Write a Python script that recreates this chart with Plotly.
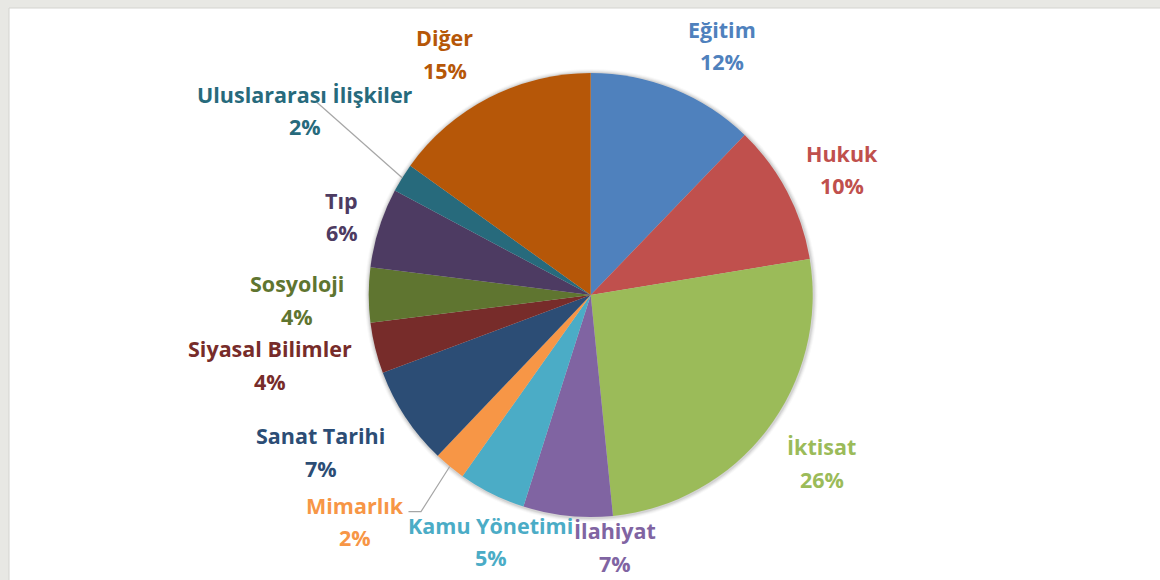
import math
import plotly.graph_objects as go

# ---------------- data ----------------
categories = ["Eğitim", "Hukuk", "İktisat", "İlahiyat", "Kamu Yönetimi", "Mimarlık",
              "Sanat Tarihi", "Siyasal Bilimler", "Sosyoloji", "Tıp",
              "Uluslararası İlişkiler", "Diğer"]
shares = [12.2, 10.2, 26.0, 6.5, 4.9, 2.3, 7.2, 3.7, 4.0, 5.8, 2.1, 15.1]
colors = ["#4F81BD", "#C0504D", "#9BBB59", "#8064A2", "#4BACC6", "#F79646",
          "#2C4D75", "#772C2A", "#5F7530", "#4D3B62", "#276A7C", "#B65708"]

# ---------------- label placement (style) ----------------
label_angle_nudge = [5.8, 1.2, -1.4, -11.4, -4.4, 6.7, 3.3, 1.5, -1.0, -0.1, 1.0, -4.0]
label_dist = [282, 281, 286, 253, 266, 327, 312, 328, 294, 261, 340, 282]
leader = {"Uluslararası İlişkiler": [(12, -8)],
          "Mimarlık": [(66, -10), (53.5, -10)]}

W, H = 1160, 580
CX, CY, R = 590.7, 295.0, 222.0
FONT = "Open Sans"
FSIZE = 21.5


def X(px):
    return px / W


def Y(py):
    return 1 - py / H


total = sum(shares)
pct = [math.floor(v / total * 100 + 0.5 + 1e-9) for v in shares]

fig = go.Figure()
fig.add_trace(go.Pie(
    labels=categories, values=shares, sort=False, direction="clockwise",
    rotation=0, marker=dict(colors=colors, line=dict(width=0)),
    textinfo="none", hoverinfo="label+percent", showlegend=False,
    domain=dict(x=[X(CX - R), X(CX + R)], y=[Y(CY + R), Y(CY - R)]),
))

shapes = [
    dict(type="rect", xref="paper", yref="paper", x0=X(9), x1=1.01, y0=-0.01, y1=Y(8),
         fillcolor="white", line=dict(color="#d4d4d0", width=1), layer="below"),
]
# soft shadow ring around the pie
for k, a in [(4, 0.025), (3, 0.035), (2, 0.05), (1, 0.07)]:
    shapes.append(dict(type="circle", xref="paper", yref="paper",
                       x0=X(CX - R - k), x1=X(CX + R + k + 1),
                       y0=Y(CY + R + k + 1), y1=Y(CY - R - k),
                       fillcolor=f"rgba(0,0,0,{a})", line=dict(width=0), layer="below"))

annotations = []
cum = 0.0
for name, v, p, col, nud, dist in zip(categories, shares, pct, colors,
                                       label_angle_nudge, label_dist):
    mid = (cum + v / 2) / total * 360
    cum += v
    ang = math.radians(mid + nud)
    lx = CX + dist * math.sin(ang)
    ly = CY - dist * math.cos(ang)
    for txt, dy in [(name, -16.3), (f"{p}%", 16.3)]:
        annotations.append(dict(
            x=X(lx), y=Y(ly + dy), xref="paper", yref="paper", text=txt,
            showarrow=False, xanchor="center", yanchor="middle",
            font=dict(family=FONT, size=FSIZE, color=col, weight="bold")))
    if name in leader:
        ma = math.radians(mid)
        pts = [(CX + R * math.sin(ma), CY - R * math.cos(ma))]
        pts += [(lx + ox, ly + oy) for ox, oy in leader[name]]
        path = "M " + " L ".join(f"{X(a)},{Y(b)}" for a, b in pts)
        shapes.append(dict(type="path", xref="paper", yref="paper", path=path,
                           line=dict(color="#a6a6a6", width=1.2)))

fig.update_layout(
    width=W, height=H, margin=dict(l=0, r=0, t=0, b=0),
    paper_bgcolor="#e8e8e4", plot_bgcolor="white",
    shapes=shapes, annotations=annotations,
)

fig.write_html("out.html", config={"displayModeBar": False},
               post_script="document.body.style.margin='0px';"
                           "document.body.style.overflow='hidden';")
